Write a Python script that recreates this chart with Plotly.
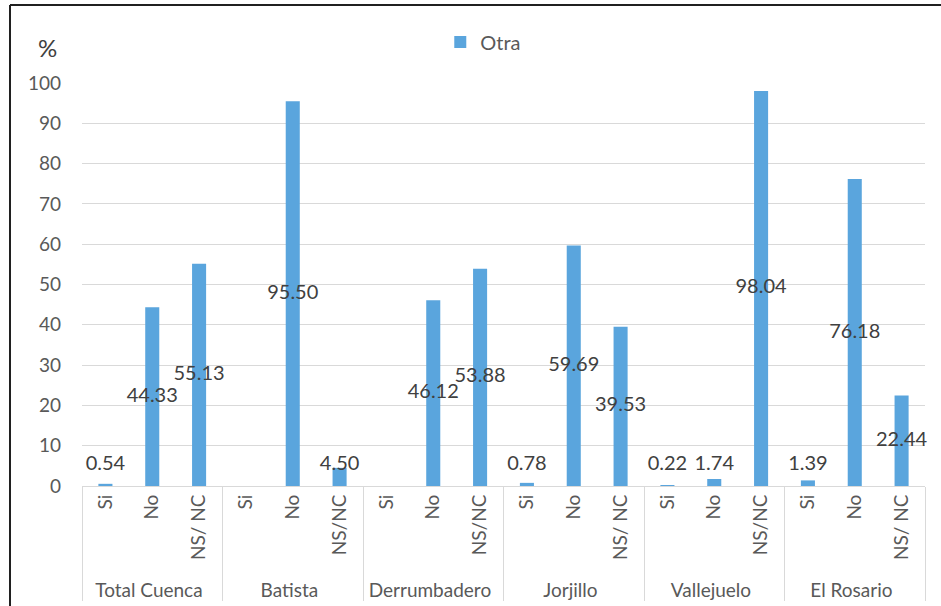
import plotly.graph_objects as go

# Responses grouped by locality
localidades = ["Total Cuenca", "Batista", "Derrumbadero", "Jorjillo", "Vallejuelo", "El Rosario"]
respuestas_tick = {
    "Total Cuenca": ["Si", "No", "NS/ NC"],
    "Batista": ["Si", "No", "NS/NC"],
    "Derrumbadero": ["Si", "No", "NS/NC"],
    "Jorjillo": ["Si", "No", "NS/ NC"],
    "Vallejuelo": ["Si", "No", "NS/NC"],
    "El Rosario": ["Si", "No", "NS/ NC"],
}
otra = {
    "Total Cuenca": [0.54, 44.33, 55.13],
    "Batista": [None, 95.50, 4.50],
    "Derrumbadero": [None, 46.12, 53.88],
    "Jorjillo": [0.78, 59.69, 39.53],
    "Vallejuelo": [0.22, 1.74, 98.04],
    "El Rosario": [1.39, 76.18, 22.44],
}

FONT = "Lato, 'Open Sans', sans-serif"
BAR_COLOR = "#5AA5DD"
TEXT_COLOR = "#404040"
TICK_COLOR = "#595959"

x_outer, x_inner, values = [], [], []
for loc in localidades:
    for cat, v in zip(respuestas_tick[loc], otra[loc]):
        x_outer.append(loc)
        x_inner.append(cat)
        values.append(v)

# labels sit at half the bar height, small bars get the label just above them
label_y, label_text = [], []
for v in values:
    if v is None:
        label_y.append(None)
        label_text.append("")
    else:
        label_y.append(max(v / 2, 5.3))
        label_text.append(f"{v:.2f}")

fig = go.Figure()
fig.add_trace(go.Bar(
    x=[x_outer, x_inner], y=values, name="Otra",
    marker=dict(color=BAR_COLOR, line=dict(width=0)),
))
fig.add_trace(go.Scatter(
    x=[x_outer, x_inner], y=label_y, text=label_text, mode="text",
    textposition="middle center",
    textfont=dict(family=FONT, size=20, color=TEXT_COLOR),
    showlegend=False, hoverinfo="skip", cliponaxis=False,
))

n_cats = len(values)
fig.update_layout(
    width=941, height=606,
    margin=dict(l=82, r=16, t=83, b=120),
    paper_bgcolor="white", plot_bgcolor="white",
    bargap=0.7,
    font=dict(family=FONT, size=19, color=TICK_COLOR),
    showlegend=True,
    legend=dict(orientation="h", x=0.425, y=1.15, xanchor="left", yanchor="top",
                font=dict(family=FONT, size=20, color=TICK_COLOR),
                bgcolor="rgba(0,0,0,0)"),
    yaxis=dict(range=[0, 100], dtick=10, showgrid=True, gridcolor="#D9D9D9",
               gridwidth=1, zeroline=False, showline=False, ticks="",
               tickfont=dict(family=FONT, size=19, color=TICK_COLOR),
               ticklabelstandoff=20, automargin=False),
    xaxis=dict(type="multicategory", range=[-0.5, n_cats - 0.5],
               showline=True, linecolor="#D9D9D9", automargin=False,
               linewidth=1, ticks="", tickangle=-90,
               showdividers=True, dividercolor="#D9D9D9", dividerwidth=1,
               tickfont=dict(family=FONT, size=19, color=TICK_COLOR)),
)

fig.add_annotation(text="%", xref="paper", yref="paper",
                   x=(47 - 82) / 843, y=(486 - 48) / 403,
                   xanchor="center", yanchor="middle",
                   showarrow=False, font=dict(family=FONT, size=24, color=TEXT_COLOR))

# chart frame: top and left edges
fig.add_shape(type="line", xref="paper", yref="paper",
              x0=(10 - 82) / 843, x1=1.1, y0=(486 - 5) / 403, y1=(486 - 5) / 403,
              line=dict(color="#202020", width=2))
fig.add_shape(type="line", xref="paper", yref="paper",
              x0=(10 - 82) / 843, x1=(10 - 82) / 843, y0=(486 - 5) / 403, y1=-0.5,
              line=dict(color="#202020", width=2))

fig.write_html("out.html")
